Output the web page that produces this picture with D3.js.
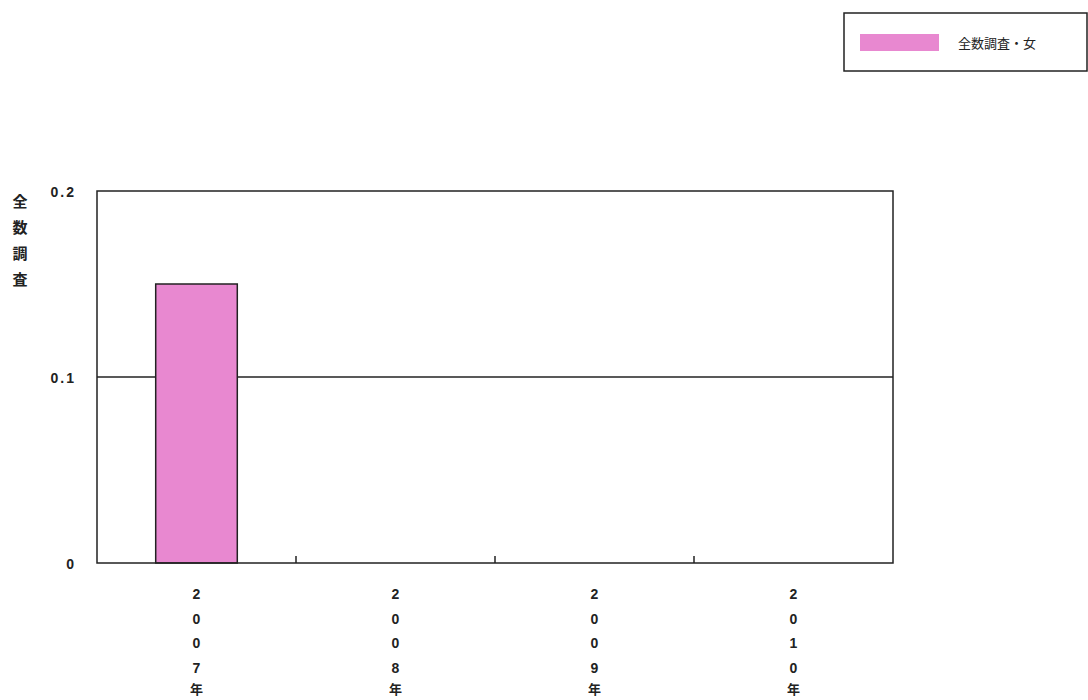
<!DOCTYPE html>
<html><head><meta charset="utf-8">
<script src="https://cdn.jsdelivr.net/npm/d3@7"></script>
<style>
html,body{margin:0;padding:0;background:#fff;}
svg{display:block;font-family:"Noto Sans CJK JP","Liberation Sans",sans-serif;}
</style></head>
<body><svg id="c" width="1088" height="700"></svg>
<script>
const categories = ["2007年","2008年","2009年","2010年"];
const values = [0.15, 0, 0, 0];
const yTicks = [0, 0.1, 0.2];
const yTickLabels = ["0","0.1","0.2"];
const seriesName = "全数調査・女";
const yAxisTitle = "全数調査";

const svg = d3.select("#c");
const m = {l:97, r:893, t:191, b:563};
const x = d3.scaleBand().domain(categories).range([m.l, m.r]).paddingInner(0).paddingOuter(0);
const y = d3.scaleLinear().domain([0, 0.2]).range([m.b, m.t]);
const pink = "#e888d0";
const ink = "#222";

// gridlines
svg.append("g").selectAll("line").data(yTicks.filter(v => v > 0 && v < 0.2)).join("line")
  .attr("x1", m.l).attr("x2", m.r).attr("y1", d => y(d)).attr("y2", d => y(d))
  .attr("stroke", ink).attr("stroke-width", 1.5);

// bars
const bw = x.bandwidth() * 0.41;
svg.append("g").selectAll("rect").data(values.map((v,i)=>({c:categories[i], v})).filter(d => d.v > 0)).join("rect")
  .attr("x", d => x(d.c) + x.bandwidth()/2 - bw/2)
  .attr("width", bw)
  .attr("y", d => y(d.v))
  .attr("height", d => y(0) - y(d.v))
  .attr("fill", pink).attr("stroke", ink).attr("stroke-width", 1.5);

// frame
svg.append("rect").attr("x", m.l).attr("y", m.t).attr("width", m.r - m.l).attr("height", m.b - m.t)
  .attr("fill", "none").attr("stroke", ink).attr("stroke-width", 1.5);

// inward ticks at category boundaries
svg.append("g").selectAll("line").data(categories.slice(1)).join("line")
  .attr("x1", d => x(d)).attr("x2", d => x(d)).attr("y1", m.b).attr("y2", m.b - 7)
  .attr("stroke", ink).attr("stroke-width", 1.5);

// y tick labels
svg.append("g").selectAll("text").data(yTicks).join("text")
  .attr("x", 76).attr("y", d => y(d) + 6)
  .attr("text-anchor", "end").attr("font-size", 14).attr("font-weight", "bold")
  .attr("letter-spacing", 2).attr("fill", ink)
  .attr("font-family", "Liberation Sans, sans-serif")
  .text((d,i) => yTickLabels[i]);

// y axis title (vertical stacked)
svg.append("g").selectAll("text").data(Array.from(yAxisTitle)).join("text")
  .attr("x", 20).attr("y", (d,i) => 207 + i * 26)
  .attr("text-anchor", "middle").attr("font-size", 15).attr("font-weight", "bold").attr("fill", ink)
  .text(d => d);

// x labels (vertical stacked)
const xl = svg.append("g");
categories.forEach(c => {
  const chars = Array.from(c);
  xl.selectAll(null).data(chars).join("text")
    .attr("x", x(c) + x.bandwidth()/2)
    .attr("y", (d,i) => i < 4 ? 599 + i * 24.5 : 694)
    .attr("text-anchor", "middle").attr("font-size", (d) => /[0-9]/.test(d) ? 14 : 13).attr("font-weight", "bold").attr("fill", ink)
    .attr("font-family", (d) => /[0-9]/.test(d) ? "Liberation Sans, sans-serif" : "Noto Sans CJK JP, sans-serif")
    .text(d => d);
});

// legend
const lg = svg.append("g");
lg.append("rect").attr("x", 844).attr("y", 13).attr("width", 243).attr("height", 58)
  .attr("fill", "#fff").attr("stroke", ink).attr("stroke-width", 1.5);
lg.append("rect").attr("x", 860).attr("y", 34).attr("width", 79).attr("height", 17).attr("fill", pink);
lg.append("text").attr("x", 958).attr("y", 48).attr("font-size", 13).attr("fill", ink).text(seriesName);
</script></body></html>
